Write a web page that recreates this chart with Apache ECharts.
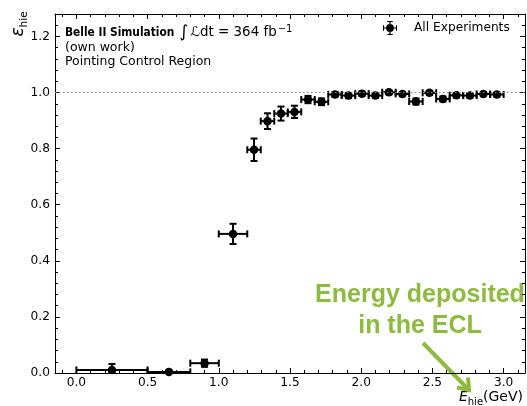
<!DOCTYPE html>
<html><head><meta charset="utf-8">
<script src="https://cdn.jsdelivr.net/npm/echarts@6/dist/echarts.min.js"></script>
<style>html,body{margin:0;padding:0;background:#fff}#c{width:527px;height:406px}</style>
</head><body><div id="c"></div>
<script>
// ---- data ----
const binLow  = [0.0, 0.5, 0.8, 1.0, 1.2, 1.2947, 1.3895, 1.4842, 1.5789, 1.6737, 1.7684, 1.8632, 1.9579, 2.0526, 2.1474, 2.2421, 2.3368, 2.4316, 2.5263, 2.6211, 2.7158, 2.8105, 2.9053];
const binHigh = [0.5, 0.8, 1.0, 1.2, 1.2947, 1.3895, 1.4842, 1.5789, 1.6737, 1.7684, 1.8632, 1.9579, 2.0526, 2.1474, 2.2421, 2.3368, 2.4316, 2.5263, 2.6211, 2.7158, 2.8105, 2.9053, 3.0];
const efficiency = [0.011, 0.004, 0.035, 0.496, 0.796, 0.898, 0.925, 0.931, 0.975, 0.967, 0.993, 0.989, 0.996, 0.989, 1.001, 0.995, 0.968, 0.999, 0.977, 0.990, 0.989, 0.995, 0.993];
const errDown = [0.011, 0.004, 0.013, 0.036, 0.040, 0.028, 0.025, 0.022, 0.013, 0.012, 0.009, 0.009, 0.008, 0.008, 0.008, 0.008, 0.011, 0.008, 0.009, 0.008, 0.008, 0.008, 0.008];
const errUp   = [0.021, 0.004, 0.013, 0.036, 0.040, 0.028, 0.025, 0.022, 0.013, 0.012, 0.009, 0.009, 0.008, 0.007, 0.006, 0.007, 0.011, 0.007, 0.009, 0.008, 0.008, 0.007, 0.007];
const seriesName = 'All Experiments';
const referenceLevel = 1.0;
const xRange = [-0.15, 3.15];
const yRange = [0, 1.28];

const FONT = 'DejaVu Sans';
const GREEN = '#8cbb3f';

const pts = binLow.map((lo, i) => {
  const hi = binHigh[i];
  const y = efficiency[i];
  return [(lo + hi) / 2, y, lo, hi, Math.max(0, y - errDown[i]), y + errUp[i]];
});

const chart = echarts.init(document.getElementById('c'), null, {renderer: 'canvas'});

function xAx(pos, major) {
  return {
    type: 'value', min: xRange[0], max: xRange[1], position: pos,
    splitNumber: major ? 7 : 33,
    splitLine: {show: false},
    axisLine: {show: major, onZero: false, lineStyle: {color: '#000', width: 1}},
    axisTick: {show: true, inside: true, length: major ? 5 : 3, lineStyle: {color: '#000', width: 1}},
    axisLabel: {show: major && pos === 'bottom', showMinLabel: false, showMaxLabel: false,
      formatter: v => v.toFixed(1), color: '#000', fontSize: 12.2, fontFamily: FONT, margin: 4}
  };
}
function yAx(pos, major) {
  return {
    type: 'value', min: yRange[0], max: yRange[1], position: pos,
    interval: major ? 0.2 : 0.04,
    splitLine: {show: false},
    axisLine: {show: major, onZero: false, lineStyle: {color: '#000', width: 1}},
    axisTick: {show: true, inside: true, length: major ? 5 : 3, lineStyle: {color: '#000', width: 1}},
    axisLabel: {show: major && pos === 'left', showMaxLabel: false,
      formatter: v => v.toFixed(1), color: '#000', fontSize: 12.2, fontFamily: FONT, margin: 5}
  };
}

const iconPath = 'path://M1 9.2H19V10.8H1Z M1 6.5H2.4V13.5H1Z M17.6 6.5H19V13.5H17.6Z M9.2 1H10.8V19H9.2Z M6.5 1H13.5V2.4H6.5Z M6.5 17.6H13.5V19H6.5Z M10 5A5 5 0 1 1 10 15A5 5 0 1 1 10 5Z';

chart.setOption({
  animation: false,
  backgroundColor: '#fff',
  grid: {left: 55, right: 2, top: 14, bottom: 33, containLabel: false},
  xAxis: [xAx('bottom', true), xAx('bottom', false), xAx('top', true), xAx('top', false)],
  yAxis: [yAx('left', true), yAx('left', false), yAx('right', true), yAx('right', false)],
  legend: {
    data: [{name: seriesName, icon: iconPath}],
    left: 378, top: 16, itemWidth: 14, itemHeight: 14, selectedMode: false,
    textStyle: {fontSize: 12.2, color: '#000', fontFamily: FONT, padding: [0, 0, 0, 12]}
  },
  series: [
    {
      type: 'scatter', name: 'ref', data: [], z: 1, silent: true,
      markLine: {
        silent: true, symbol: ['none', 'none'], label: {show: false},
        lineStyle: {color: '#888', width: 1, type: [1.5, 2.5]},
        data: [{yAxis: referenceLevel}]
      }
    },
    {
      type: 'custom', name: 'err', z: 2, silent: true, clip: true,
      data: pts,
      renderItem: function (params, api) {
        const x = api.value(0), y = api.value(1);
        const pL = api.coord([api.value(2), y]);
        const pR = api.coord([api.value(3), y]);
        const pB = api.coord([x, api.value(4)]);
        const pT = api.coord([x, api.value(5)]);
        const c = 3.5;
        const st = {stroke: '#000', lineWidth: 2};
        const L = (x1, y1, x2, y2) => ({type: 'line', shape: {x1, y1, x2, y2}, style: st});
        return {
          type: 'group',
          children: [
            L(pL[0], pL[1], pR[0], pR[1]),
            L(pL[0], pL[1] - c, pL[0], pL[1] + c),
            L(pR[0], pR[1] - c, pR[0], pR[1] + c),
            L(pB[0], pB[1], pT[0], pT[1]),
            L(pT[0] - c, pT[1], pT[0] + c, pT[1]),
            L(pB[0] - c, pB[1], pB[0] + c, pB[1])
          ]
        };
      }
    },
    {
      type: 'scatter', name: seriesName, z: 3,
      data: pts.map(p => [p[0], p[1]]),
      symbol: 'circle', symbolSize: 8.5,
      itemStyle: {color: '#000', opacity: 1}
    }
  ],
  graphic: [
    {type: 'text', x: 65, y: 33, style: {
      text: '{b|Belle II Simulation} {i|∫}{n|ℒ}{n|dt = 364 fb}{s|−1}',
      verticalAlign: 'middle', fill: '#000',
      rich: {
        b: {fontFamily: '"DejaVu Sans Condensed", "Liberation Sans"', fontWeight: 'bold', fontSize: 11.8, fill: '#000', lineHeight: 18},
        i: {fontFamily: FONT, fontSize: 17, fill: '#000', lineHeight: 18, padding: [0, 2, 0, 2]},
        n: {fontFamily: FONT, fontSize: 13.4, fill: '#000', lineHeight: 18},
        s: {fontFamily: FONT, fontSize: 10, fill: '#000', lineHeight: 8, verticalAlign: 'top', padding: [0, 0, 0, 1]}
      }}},
    {type: 'text', x: 65, y: 47.5, style: {text: '(own work)', verticalAlign: 'middle', fill: '#000', font: '12.5px "DejaVu Sans"'}},
    {type: 'text', x: 65, y: 62, style: {text: 'Pointing Control Region', verticalAlign: 'middle', fill: '#000', font: '12.5px "DejaVu Sans"'}},
    {type: 'text', x: 19, y: 24, rotation: Math.PI / 2, style: {
      text: '{e|ε}{s|hie}', align: 'center', verticalAlign: 'middle',
      rich: {
        e: {fontFamily: FONT, fontStyle: 'italic', fontSize: 17, fill: '#000', lineHeight: 22},
        s: {fontFamily: FONT, fontSize: 10.5, fill: '#000', lineHeight: 12, verticalAlign: 'bottom'}
      }}},
    {type: 'text', x: 523, y: 397, style: {
      text: '{e|E}{s|hie}{n|(GeV)}', align: 'right', verticalAlign: 'middle',
      rich: {
        e: {fontFamily: FONT, fontStyle: 'italic', fontSize: 14, fill: '#000', lineHeight: 20},
        s: {fontFamily: FONT, fontSize: 10, fill: '#000', lineHeight: 12, verticalAlign: 'bottom'},
        n: {fontFamily: FONT, fontSize: 14, fill: '#000', lineHeight: 20}
      }}},
    {type: 'text', x: 420, y: 311, style: {
      text: 'Energy deposited\nin the ECL', align: 'center', verticalAlign: 'middle',
      fill: GREEN, font: 'bold 25px "Liberation Sans"', lineHeight: 31}},
    {type: 'line', shape: {x1: 423, y1: 343, x2: 467, y2: 388}, style: {stroke: GREEN, lineWidth: 4}},
    {type: 'polyline', shape: {points: [[457, 387.5], [469, 390], [468, 377.5]]}, style: {stroke: GREEN, lineWidth: 4, fill: null}}
  ]
});
</script>
</body></html>
